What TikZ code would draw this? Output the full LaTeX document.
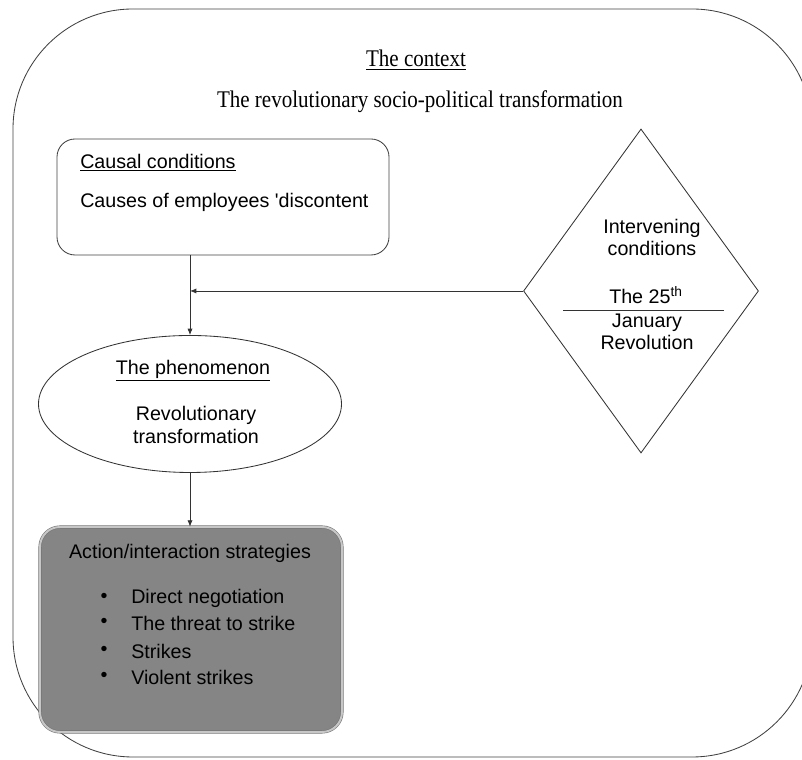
\documentclass[tikz,border=0pt]{standalone}
\usepackage{fontspec}
\setmainfont{Liberation Serif}
\setsansfont{Liberation Sans}
\newfontfamily\ctxfont[FakeStretch=0.88]{Liberation Serif}
\usetikzlibrary{shapes.geometric, arrows.meta, positioning}

\begin{document}
\begin{tikzpicture}[
    frame/.style={draw=black!75, line width=0.6pt, rounded corners=3cm, minimum width=19.975cm, minimum height=18.7cm},
    box/.style={draw=black!75, line width=0.6pt, rounded corners=0.45cm, minimum width=8.3cm, minimum height=2.9cm},
    shadebox/.style={draw=black!55, double=black!22, double distance=1.4pt, fill=black!48, rounded corners=0.5cm, minimum width=7.55cm, minimum height=5.125cm},
    txt/.style={font=\sffamily\fontsize{14}{16}\selectfont, inner sep=0pt},
    ctx/.style={font=\ctxfont\fontsize{17}{19}\selectfont, inner sep=0pt},
    line/.style={draw=black!80, line width=0.6pt},
    flow/.style={line, -{Latex[length=1.6mm, width=1.3mm]}}
]
\useasboundingbox (0,0) rectangle (20.05,19);
\clip (0,0) rectangle (20.05,19);
\node[frame] (context) at (10.3125,9.425) {};
\node[ctx] (ctxtitle) at (10.4,17.5) {\underline{The context}};
\node[ctx] (ctxtext)  at (10.5,16.45) {The revolutionary socio-political transformation};

\node[box] (cause) at (5.575,14.075) {};
\node[txt, anchor=west] (causetitle) at (2.0,14.925) {\underline{Causal conditions}};
\node[txt, anchor=west] (causetext)  at (2.0,13.95) {Causes of employees \textquotesingle discontent};

\node[diamond, line, minimum width=5.875cm, minimum height=8.1cm, inner sep=0pt] (cond) at (16.025,11.725) {};
\node[txt, align=center] (condtitle) at (16.3,13.06) {Intervening\\conditions};
\node[txt] (condyear) at (16.15,11.62) {The 25\textsuperscript{th}};
\draw[line] (14.075,11.25) -- (18.1,11.25);
\node[txt, align=center] (condname) at (16.175,10.7) {January\\Revolution};

\node[ellipse, line, minimum width=7.575cm, minimum height=3.425cm, inner sep=0pt] (pheno) at (4.75,8.9) {};
\node[txt] (phenotitle) at (4.825,9.725) {\underline{The phenomenon}};
\node[txt, align=center] (phenotext) at (4.9,8.38) {Revolutionary\\transformation};

\node[shadebox] (strat) at (4.775,3.2625) {};
\node[txt] (strattitle) at (4.75,5.175) {Action/interaction strategies};
\node[txt] (dot1) at (2.6,4.05)  {\textbullet};
\node[txt] (dot2) at (2.6,3.425) {\textbullet};
\node[txt] (dot3) at (2.6,2.725) {\textbullet};
\node[txt] (dot4) at (2.6,2.075) {\textbullet};
\node[txt, anchor=west] (item1) at (3.275,4.05)  {Direct negotiation};
\node[txt, anchor=west] (item2) at (3.275,3.425) {The threat to strike};
\node[txt, anchor=west] (item3) at (3.275,2.725) {Strikes};
\node[txt, anchor=west] (item4) at (3.275,2.075) {Violent strikes};

\coordinate (join) at (cond.west -| pheno.north);
\draw[flow] (cause.south -| pheno.north) -- (pheno.north);
\draw[flow] (cond.west) -- (join);
\draw[flow] (pheno.south) -- (pheno.south |- strat.north);
\end{tikzpicture}
\end{document}
